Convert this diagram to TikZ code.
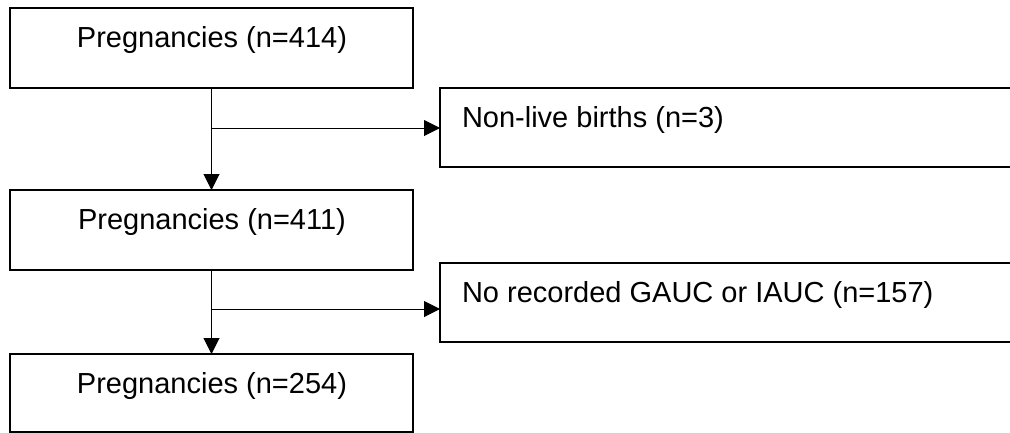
\documentclass[tikz,border=0pt]{standalone}
\usepackage{fontspec}
\setmainfont{Liberation Sans}
\usetikzlibrary{arrows.meta}
\tikzset{
  box/.style={draw=black, line width=2.4pt, rectangle, inner sep=0pt, outer sep=0pt, anchor=north west},
  lbl/.style={font=\fontsize{29pt}{34pt}\selectfont, inner sep=0pt, outer sep=0pt},
  conn/.style={draw=black, line width=1pt, -{Triangle[length=16pt,width=16pt]}},
  plain/.style={draw=black, line width=1pt}
}
\begin{document}
\begin{tikzpicture}[x=1pt, y=-1pt]
\useasboundingbox (0,0) rectangle (1010,432);
\clip (0,0) rectangle (1010,432);
\fill[white] (0,0) rectangle (1010,432);
% boxes
\node[box, minimum width=403pt, minimum height=80pt] (b1) at (10,8) {};
\node[box, minimum width=600pt, minimum height=79pt] (b2) at (440,88) {};
\node[box, minimum width=403pt, minimum height=80pt] (b3) at (10,190) {};
\node[box, minimum width=600pt, minimum height=79pt] (b4) at (440,263) {};
\node[box, minimum width=403pt, minimum height=78pt] (b5) at (10,354) {};
% texts
\node[lbl, anchor=base] (t1) at (212,47) {Pregnancies (n=414)};
\node[lbl, anchor=base west] (t2) at (462,127) {Non-live births (n=3)};
\node[lbl, anchor=base] (t3) at (212,229) {Pregnancies (n=411)};
\node[lbl, anchor=base west] (t4) at (462,302) {No recorded GAUC or IAUC (n=157)};
\node[lbl, anchor=base] (t5) at (212,393) {Pregnancies (n=254)};
% connectors
\coordinate (j1) at (212,128);
\coordinate (j2) at (212,309);
\draw[conn] (b1.south) -- (b3.north);
\draw[conn] (j1) -- (j1 -| b2.west);
\draw[conn] (b3.south) -- (b5.north);
\draw[conn] (j2) -- (j2 -| b4.west);
\end{tikzpicture}
\end{document}
